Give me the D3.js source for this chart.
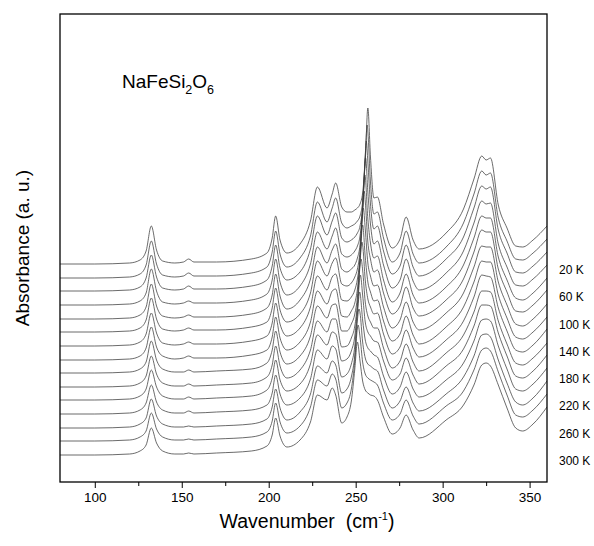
<!DOCTYPE html>
<html>
<head>
<meta charset="utf-8">
<script src="https://cdnjs.cloudflare.com/ajax/libs/d3/7.8.5/d3.min.js"></script>
<style>
  body { margin: 0; background: #fff; }
  svg { font-family: "Liberation Sans", Arial, Helvetica, sans-serif; }
</style>
</head>
<body>
<div id="chart"></div>
<script>
// one far-IR spectrum per temperature, stacked with a vertical offset (a.u.)
var temps   = [20, 40, 60, 80, 100, 120, 140, 160, 180, 200, 220, 240, 260, 280, 300];
var offsets = [218, 204, 191, 177, 163, 150, 136, 122, 109, 95, 82, 68, 54, 41, 27];

// common wavenumber grid (cm-1)
var wavenumbers = [80, 100, 120, 126, 129.5, 132.5, 135.5, 139, 146, 151, 154, 157, 170, 190, 199,
    202, 204, 206.5, 210.5, 218, 224, 228, 233.5, 236.5, 238.5,
    242, 245, 247.5, 249.5, 251, 252.5, 254, 255.5, 257, 258.5, 260.5, 262.5,
    266, 271, 275.5, 279, 283, 286.5, 302, 312, 318, 322.5, 325, 327.5, 332, 337, 342, 346, 352, 360];

// absorbance above each curve's offset (null = no reading there)
var spec20  = [0,0,1,4,13,38,14,3,1,2,5,2,2,5,11,26,48,24,11,20,43,77,56,70,81, 57,52,52,54,56,60,71,103,null,107,66,67, 40,16,25,47,24,15,31,55,85,108,104,106,59,36,18,17,24,38];
var spec40  = [0,0,1,4,13,37,14,3,1,2,5,2,2,5,11,26,47,24,11,20,42,76,56,70,80, 55,50,52,54,57,62,77,120,146,96,64,66, 40,16,25,47,24,15,31,55,84,107,103,105,60,37,19,18,25,39];
var spec60  = [0,0,1,4,13,36,14,3,1,2,5,2,2,5,11,25,46,23,11,19,42,75,56,70,78, 53,49,51,54,58,65,85,136,129,87,62,65, 40,17,25,46,24,15,32,54,83,105,102,104,61,38,19,18,25,39];
var spec80  = [0,0,1,4,12,36,14,3,1,2,4,2,2,5,11,25,46,23,10,19,41,73,56,69,77, 51,48,50,54,59,69,96,null,113,81,61,64, 40,17,25,46,24,15,32,54,82,104,101,102,61,38,20,19,26,40];
var spec100 = [0,0,1,4,12,35,13,3,1,2,4,2,2,5,11,24,45,23,10,19,40,72,56,69,75, 50,47,50,54,61,74,109,null,100,76,61,63, 39,17,26,45,24,16,32,54,81,103,101,101,62,39,21,19,26,41];
var spec120 = [0,0,1,4,12,34,13,3,1,2,4,2,2,5,10,24,44,22,10,18,39,71,56,69,74, 48,46,49,55,63,81,122,131,90,73,60,62, 39,18,26,45,24,16,32,53,80,102,100,100,63,40,21,20,27,42];
var spec140 = [0,0,1,4,12,33,13,3,1,2,4,2,2,5,10,23,43,22,10,18,39,70,56,69,72, 46,45,49,56,67,89,133,117,83,70,60,61, 39,18,26,44,24,16,33,53,79,100,99,99,64,41,22,20,27,42];
var spec160 = [0,0,1,4,12,33,13,4,1,2,4,2,2,5,10,23,43,22,10,18,38,69,56,69,71, 44,43,49,57,71,100,null,103,78,68,59,60, 39,19,26,44,25,16,33,53,78,99,98,98,65,42,23,21,28,43];
var spec180 = [0,0,1,4,11,32,13,4,1,1,3,1,2,4,10,23,42,21,9,17,37,67,55,68,69, 42,42,49,59,76,111,128,93,74,66,59,60, 39,19,26,43,25,16,33,52,76,98,97,96,65,42,23,21,28,44];
var spec200 = [0,0,1,4,11,31,13,4,1,1,3,1,2,4,10,22,41,21,9,17,37,66,55,68,68, 40,41,49,61,83,121,117,85,71,65,59,59, 39,19,26,43,25,16,34,52,75,96,96,95,66,43,24,22,29,44];
var spec220 = [0,0,1,4,11,30,13,4,1,1,3,1,2,4,10,22,40,20,9,16,36,65,55,68,66, 39,41,49,64,91,null,105,78,68,64,59,58, 39,20,26,42,25,16,34,51,74,95,95,94,67,44,24,22,29,45];
var spec240 = [0,0,1,4,11,29,12,4,1,1,3,1,2,4,9,21,39,20,9,16,35,64,55,68,65, 37,40,50,68,100,null,94,74,66,63,59,57, 38,20,27,42,25,17,34,51,73,94,95,93,68,45,25,23,30,46];
var spec260 = [0,0,1,4,10,29,12,4,1,1,2,1,2,4,9,21,39,20,8,16,34,62,55,67,63, 35,39,51,73,108,115,86,70,64,62,59,57, 38,20,27,41,25,17,34,51,72,93,94,91,68,45,26,23,30,47];
var spec280 = [0,0,1,4,10,28,12,4,1,1,2,1,2,4,9,20,38,19,8,15,34,61,55,67,62, 33,38,52,80,113,104,79,67,63,61,59,56, 38,21,27,41,25,17,35,50,71,91,93,90,69,46,26,24,31,47];
var spec300 = [0,0,1,4,10,27,12,4,1,1,2,1,2,4,9,20,37,19,8,15,33,60,55,67,60, 32,38,54,86,null,94,74,65,62,60,59,55, 38,21,27,40,25,17,35,50,70,90,92,89,70,47,27,24,31,48];

// strongest band: position (cm-1) and height, shifting down with temperature
var peakPos = [257.0, 256.6, 256.1, 255.7, 255.3, 254.9, 254.4, 254.0, 253.6, 253.1, 252.7, 252.3, 251.9, 251.4, 251.0];
var peakTop = [156, 153, 150, 147, 144, 141, 138, 135, 131, 128, 125, 122, 119, 116, 113];

var xTicks = [100, 150, 200, 250, 300, 350];
var xMinorTicks = [125, 175, 225, 275, 325];
var labelTemps = [20, 60, 100, 140, 180, 220, 260, 300];

var spectra = [spec20, spec40, spec60, spec80, spec100, spec120, spec140, spec160,
    spec180, spec200, spec220, spec240, spec260, spec280, spec300];

var width = 594, height = 546;
var margin = {top: 14, right: 47, bottom: 64, left: 60};

var svg = d3.select("#chart").append("svg")
    .attr("width", width)
    .attr("height", height);

var x = d3.scaleLinear().domain([80, 360]).range([margin.left, width - margin.right]);
var y = d3.scaleLinear().domain([0, 468]).range([height - margin.bottom, margin.top]);

svg.append("clipPath").attr("id", "plot")
    .append("rect")
    .attr("x", margin.left).attr("y", margin.top)
    .attr("width", x.range()[1] - x.range()[0])
    .attr("height", y.range()[0] - y.range()[1]);

var line = d3.line()
    .x(function(d) { return x(d[0]); })
    .y(function(d) { return y(d[1]); })
    .curve(d3.curveMonotoneX);

var series = spectra.map(function(s, i) {
    var pts = [];
    wavenumbers.forEach(function(w, k) {
        if (s[k] !== null) pts.push([w, s[k] + offsets[i]]);
    });
    pts.push([peakPos[i], peakTop[i] + offsets[i]]);
    pts.sort(function(a, b) { return a[0] - b[0]; });
    return {t: temps[i], pts: pts};
});

svg.append("g")
    .attr("clip-path", "url(#plot)")
    .selectAll("path")
    .data(series)
    .enter().append("path")
    .attr("d", function(d) { return line(d.pts); })
    .attr("fill", "none")
    .attr("stroke", "#3a3a3a")
    .attr("stroke-width", 0.75);

// bottom axis: labelled major ticks + short minor ticks
var axisY = y.range()[0];
svg.append("g")
    .attr("transform", "translate(0," + axisY + ")")
    .call(d3.axisBottom(x).tickValues(xTicks).tickSize(6).tickPadding(4).tickFormat(d3.format("d")))
    .call(function(g) {
        g.select(".domain").remove();
        g.selectAll("line").attr("stroke", "#000").attr("stroke-width", 1);
        g.selectAll("text").attr("font-size", "13.5px").attr("fill", "#000")
            .attr("font-family", "'Liberation Sans', Arial, sans-serif");
    });
svg.append("g")
    .attr("transform", "translate(0," + axisY + ")")
    .call(d3.axisBottom(x).tickValues(xMinorTicks).tickSize(4).tickFormat(""))
    .call(function(g) {
        g.select(".domain").remove();
        g.selectAll("line").attr("stroke", "#000").attr("stroke-width", 1);
    });

// frame
svg.append("rect")
    .attr("x", x.range()[0]).attr("y", y.range()[1])
    .attr("width", x.range()[1] - x.range()[0])
    .attr("height", y.range()[0] - y.range()[1])
    .attr("fill", "none")
    .attr("stroke", "#000")
    .attr("stroke-width", 1.3);

// temperature labels beside the curves
svg.append("g").selectAll("text")
    .data(labelTemps)
    .enter().append("text")
    .attr("x", 559)
    .attr("y", function(t) { return y(offsets[temps.indexOf(t)]) + 10; })
    .attr("font-size", "12px")
    .attr("fill", "#000")
    .text(function(t) { return t + " K"; });

// sample name
var title = svg.append("text")
    .attr("x", 122).attr("y", 88)
    .attr("font-size", "19px")
    .attr("fill", "#000");
title.append("tspan").text("NaFeSi");
title.append("tspan").attr("font-size", "12.5px").attr("dy", 6).text("2");
title.append("tspan").attr("dy", -6).text("O");
title.append("tspan").attr("font-size", "12.5px").attr("dy", 6).text("6");

// axis titles
var xl = svg.append("text")
    .attr("x", 307).attr("y", 528)
    .attr("text-anchor", "middle")
    .attr("font-size", "19.5px")
    .attr("fill", "#000");
xl.append("tspan").text("Wavenumber\u00a0\u00a0(cm");
xl.append("tspan").attr("font-size", "11px").attr("dy", -8).text("-1");
xl.append("tspan").attr("dy", 8).text(")");

svg.append("text")
    .attr("transform", "translate(29," + 248 + ") rotate(-90)")
    .attr("text-anchor", "middle")
    .attr("font-size", "19px")
    .attr("fill", "#000")
    .text("Absorbance (a. u.)");
</script>
</body>
</html>
